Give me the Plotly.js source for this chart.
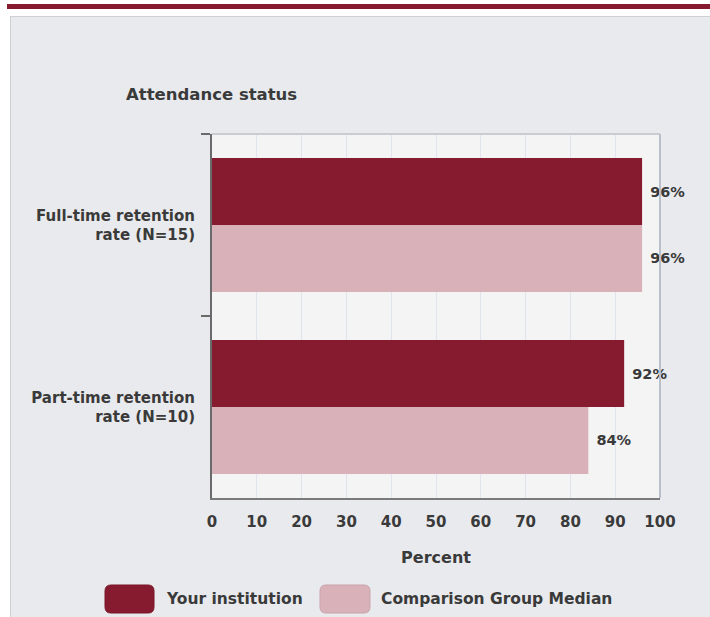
<!DOCTYPE html>
<html>
<head>
<meta charset="utf-8">
<script src="https://cdn.plot.ly/plotly-3.0.1.min.js"></script>
<style>
  html, body { margin: 0; padding: 0; background: #ffffff; width: 710px; height: 617px; overflow: hidden; }
  #band { position: absolute; left: 7px; top: 4px; width: 703px; height: 5px; background: #861a2e; }
  #panel { position: absolute; left: 10px; top: 16px; width: 720px; height: 620px; background: #e9eaee; border: 1px solid #cfd0d4; }
  #chart { position: absolute; left: 0; top: 0; width: 710px; height: 617px; }
</style>
</head>
<body>
<div id="band"></div>
<div id="panel"></div>
<div id="chart"></div>
<script>
// ---- data ----
var categories = ["Full-time retention<br>rate (N=15)", "Part-time retention<br>rate (N=10)"];
var seriesNames = ["Your institution", "Comparison Group Median"];
var yourInstitution = [96, 92];
var comparisonMedian = [96, 84];
var xTickValues = [0, 10, 20, 30, 40, 50, 60, 70, 80, 90, 100];
var yAxisTitle = "Attendance status";
var xAxisTitle = "Percent";

// ---- styles ----
var darkColor = "#861a2e";
var lightColor = "#d8b2b8";
var fontFamily = "DejaVu Sans, Verdana, sans-serif";
var textColor = "#3a3a3a";

var L = 212, R = 50, T = 134, B = 119, W = 710, H = 617;
var PW = W - L - R, PH = H - T - B;
function px(x) { return (x - L) / PW; }
function py(y) { return (H - B - y) / PH; }
function roundRect(x0, y0, x1, y1, r) {
  var rx = r / PW, ry = r / PH;
  var a = px(x0), b = px(x1), c = py(y1), d = py(y0);
  return "M" + (a + rx) + "," + c +
    " L" + (b - rx) + "," + c +
    " Q" + b + "," + c + " " + b + "," + (c + ry) +
    " L" + b + "," + (d - ry) +
    " Q" + b + "," + d + " " + (b - rx) + "," + d +
    " L" + (a + rx) + "," + d +
    " Q" + a + "," + d + " " + a + "," + (d - ry) +
    " L" + a + "," + (c + ry) +
    " Q" + a + "," + c + " " + (a + rx) + "," + c + " Z";
}

var labelFont = {family: fontFamily, size: 14.5, color: textColor, weight: "bold"};

var traces = [
  {
    type: "bar", orientation: "h", name: seriesNames[0],
    y: categories, x: yourInstitution,
    marker: {color: darkColor, line: {width: 0}},
    text: yourInstitution.map(function (v) { return "\u00a0" + v + "%"; }),
    textposition: "outside", textfont: labelFont, cliponaxis: false,
    hoverinfo: "x+name"
  },
  {
    type: "bar", orientation: "h", name: seriesNames[1],
    y: categories, x: comparisonMedian,
    marker: {color: lightColor, line: {width: 0}},
    text: comparisonMedian.map(function (v) { return "\u00a0" + v + "%"; }),
    textposition: "outside", textfont: labelFont, cliponaxis: false,
    hoverinfo: "x+name"
  }
];

var layout = {
  width: W, height: H,
  margin: {l: L, r: R, t: T, b: B, pad: 0},
  paper_bgcolor: "rgba(0,0,0,0)",
  plot_bgcolor: "#f4f4f4",
  barmode: "group",
  bargap: 0.265,
  bargroupgap: 0,
  showlegend: false,
  font: {family: fontFamily, color: textColor},
  xaxis: {
    range: [0, 100],
    tickvals: xTickValues,
    ticktext: xTickValues.map(String),
    showgrid: true, gridcolor: "#dfe4ee", gridwidth: 1,
    zeroline: false,
    showline: true, linecolor: "#7a7a7a", linewidth: 2,
    ticks: "", ticklabelstandoff: 9,
    tickfont: {family: fontFamily, size: 15, color: textColor, weight: "bold"},
    title: {text: xAxisTitle, standoff: 22, font: {family: fontFamily, size: 16, color: textColor, weight: "bold"}},
    fixedrange: true
  },
  yaxis: {
    type: "category",
    autorange: "reversed",
    showgrid: false, zeroline: false,
    showline: true, linecolor: "#6a6a6a", linewidth: 2,
    ticks: "outside", tickson: "boundaries", ticklen: 9, tickwidth: 2, tickcolor: "#6a6a6a",
    ticklabelstandoff: 12,
    tickfont: {family: fontFamily, size: 15, color: textColor, weight: "bold"},
    fixedrange: true
  },
  shapes: [
    {type: "line", xref: "paper", yref: "paper", x0: 0, x1: 1, y0: 1, y1: 1, line: {color: "#c9ccd3", width: 2}},
    {type: "line", xref: "paper", yref: "paper", x0: 1, x1: 1, y0: 0, y1: 1, line: {color: "#b9bfcb", width: 2}},
    {type: "path", xref: "paper", yref: "paper", path: roundRect(105, 585, 154, 613, 6), fillcolor: darkColor, line: {color: "#7a1528", width: 1}},
    {type: "path", xref: "paper", yref: "paper", path: roundRect(320, 585, 370, 613, 6), fillcolor: lightColor, line: {color: "#c9a3aa", width: 1}}
  ],
  annotations: [
    {xref: "paper", yref: "paper", x: px(211), y: py(95), xanchor: "center", yanchor: "middle",
     text: yAxisTitle, showarrow: false, font: {family: fontFamily, size: 16.5, color: textColor, weight: "bold"}},
    {xref: "paper", yref: "paper", x: px(164), y: py(599), xanchor: "left", yanchor: "middle",
     text: seriesNames[0], showarrow: false, font: {family: fontFamily, size: 15.5, color: textColor, weight: "bold"}},
    {xref: "paper", yref: "paper", x: px(379), y: py(599), xanchor: "left", yanchor: "middle",
     text: seriesNames[1], showarrow: false, font: {family: fontFamily, size: 15.5, color: textColor, weight: "bold"}}
  ]
};

Plotly.newPlot("chart", traces, layout, {displayModeBar: false, staticPlot: true});
</script>
</body>
</html>
